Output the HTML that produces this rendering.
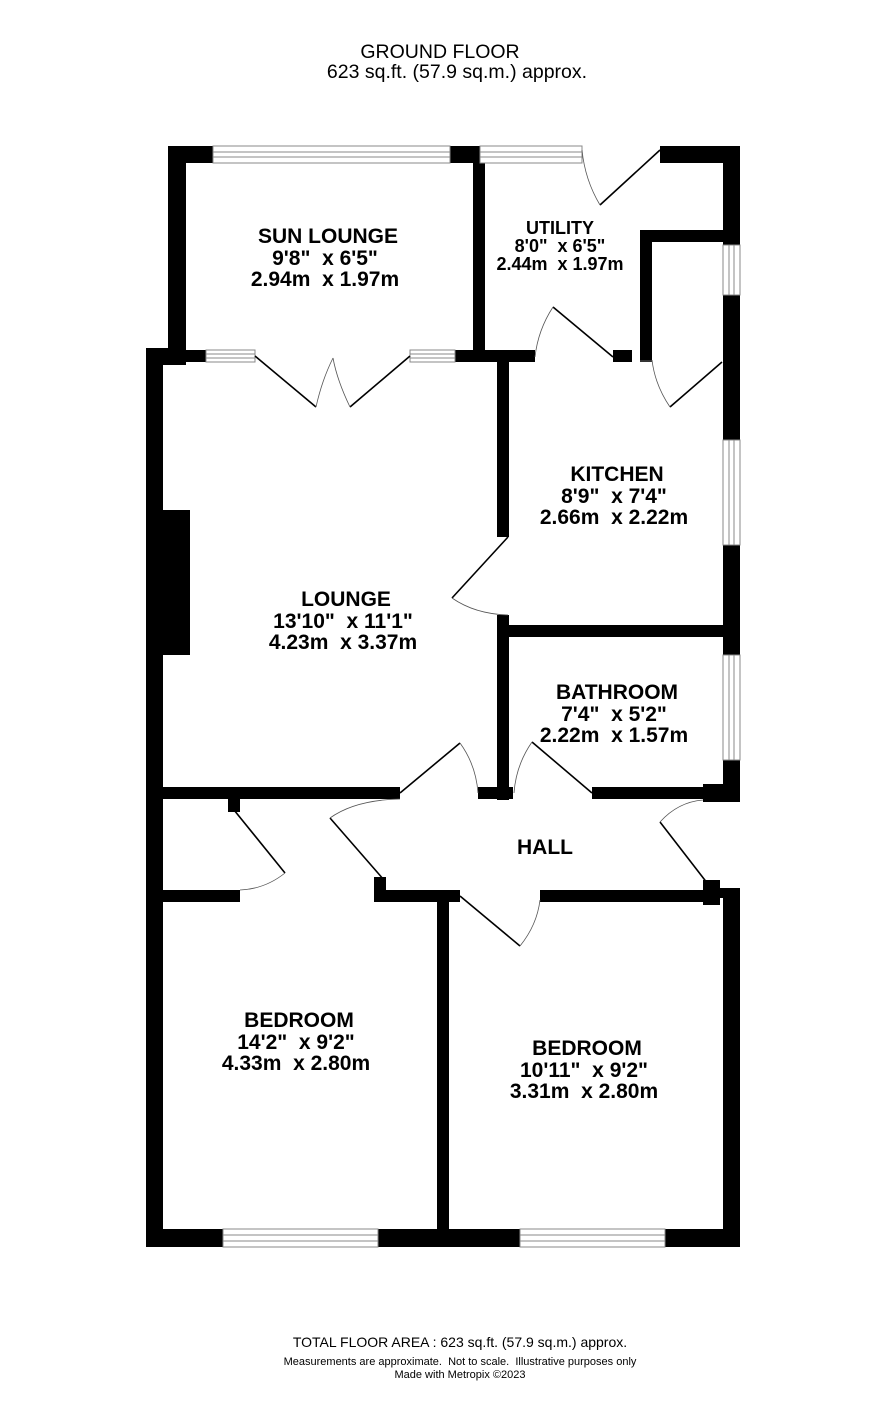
<!DOCTYPE html>
<html><head><meta charset="utf-8"><style>
html,body{margin:0;padding:0;background:#fff}
svg{display:block}
text{font-family:"Liberation Sans",Arial,sans-serif;fill:#000;white-space:pre}
.b{font-weight:bold;font-size:21px}
</style></head><body>
<svg width="886" height="1428" viewBox="0 0 886 1428" xmlns="http://www.w3.org/2000/svg" xml:space="preserve">
<text x="440" y="58" text-anchor="middle" font-size="19.5">GROUND FLOOR</text>
<text x="457" y="78" text-anchor="middle" font-size="19.5">623 sq.ft. (57.9 sq.m.) approx.</text>
<g fill="#000">
<rect x="168" y="146" width="18" height="219"/>
<rect x="168" y="146" width="45" height="17"/>
<rect x="450" y="146" width="30" height="17"/>
<rect x="473" y="146" width="12" height="216"/>
<rect x="660" y="146" width="80" height="17"/>
<rect x="723" y="146" width="17" height="99"/>
<rect x="723" y="295" width="17" height="145"/>
<rect x="723" y="545" width="17" height="110"/>
<rect x="723" y="760" width="17" height="42"/>
<rect x="640" y="230" width="100" height="12"/>
<rect x="640" y="230" width="12" height="130"/>
<rect x="168" y="350" width="38" height="12"/>
<rect x="455" y="350" width="80" height="12"/>
<rect x="613" y="350" width="19" height="12"/>
<rect x="146" y="348" width="17" height="899"/>
<rect x="146" y="348" width="22" height="17"/>
<rect x="163" y="510" width="27" height="145"/>
<rect x="497" y="362" width="12" height="175"/>
<rect x="497" y="615" width="12" height="185"/>
<rect x="497" y="625" width="243" height="12"/>
<rect x="146" y="787" width="254" height="12"/>
<rect x="478" y="787" width="35" height="12"/>
<rect x="592" y="787" width="148" height="12"/>
<rect x="703" y="784" width="37" height="18"/>
<rect x="228" y="799" width="12" height="13"/>
<rect x="146" y="890" width="94" height="12"/>
<rect x="374" y="877" width="12" height="25"/>
<rect x="374" y="890" width="86" height="12"/>
<rect x="540" y="890" width="180" height="12"/>
<rect x="703" y="880" width="17" height="25"/>
<rect x="720" y="888" width="20" height="10"/>
<rect x="723" y="888" width="17" height="359"/>
<rect x="437" y="902" width="12" height="333"/>
<rect x="146" y="1229" width="77" height="18"/>
<rect x="378" y="1229" width="142" height="18"/>
<rect x="665" y="1229" width="75" height="18"/>
</g>
<g fill="#fff" stroke="#888" stroke-width="1">
<rect x="213" y="146" width="237" height="17"/><line x1="213" y1="152" x2="450" y2="152"/><line x1="213" y1="157" x2="450" y2="157"/>
<rect x="480" y="146" width="102" height="17"/><line x1="480" y1="152" x2="582" y2="152"/><line x1="480" y1="157" x2="582" y2="157"/>
<rect x="723" y="245" width="17" height="50"/><line x1="729" y1="245" x2="729" y2="295"/><line x1="734" y1="245" x2="734" y2="295"/>
<rect x="723" y="440" width="17" height="105"/><line x1="729" y1="440" x2="729" y2="545"/><line x1="734" y1="440" x2="734" y2="545"/>
<rect x="723" y="655" width="17" height="105"/><line x1="729" y1="655" x2="729" y2="760"/><line x1="734" y1="655" x2="734" y2="760"/>
<rect x="206" y="350" width="49" height="12"/><line x1="206" y1="354" x2="255" y2="354"/><line x1="206" y1="358" x2="255" y2="358"/>
<rect x="410" y="350" width="45" height="12"/><line x1="410" y1="354" x2="455" y2="354"/><line x1="410" y1="358" x2="455" y2="358"/>
<rect x="223" y="1229" width="155" height="18"/><line x1="223" y1="1235" x2="378" y2="1235"/><line x1="223" y1="1241" x2="378" y2="1241"/>
<rect x="520" y="1229" width="145" height="18"/><line x1="520" y1="1235" x2="665" y2="1235"/><line x1="520" y1="1241" x2="665" y2="1241"/>
</g>
<g fill="none" stroke="#000" stroke-width="1.6">
<line x1="255" y1="356" x2="316" y2="407"/><line x1="410" y1="356" x2="350" y2="407"/>
<line x1="508" y1="537" x2="452" y2="598"/>
<line x1="613" y1="357" x2="553" y2="307"/>
<line x1="722" y1="362" x2="670" y2="407"/>
<line x1="660" y1="150" x2="600" y2="205"/>
<line x1="400" y1="793" x2="460" y2="743"/>
<line x1="592" y1="793" x2="532" y2="742"/>
<line x1="711" y1="888" x2="660" y2="822"/>
<line x1="384" y1="880" x2="330" y2="818"/>
<line x1="234" y1="810" x2="285" y2="873"/>
<line x1="460" y1="896" x2="520" y2="946"/>
<line x1="652" y1="361" x2="640" y2="361"/>
</g>
<g fill="none" stroke="#555" stroke-width="0.8">
<path d="M316 407 Q322 380 333 358"/><path d="M350 407 Q337 380 333 358"/>
<path d="M452 598 Q475 614 508 615"/>
<path d="M553 307 Q538 330 535 357"/>
<path d="M670 407 Q655 385 652 360"/>
<path d="M600 205 Q585 180 582 150"/>
<path d="M460 743 Q476 765 478 793"/>
<path d="M532 742 Q516 765 514 793"/>
<path d="M660 822 Q678 802 703 800"/>
<path d="M330 818 Q355 800 400 799"/>
<path d="M285 873 Q265 889 240 890"/>
<path d="M520 946 Q537 925 540 900"/>
</g>
<g class="b" text-anchor="middle">
<text x="328" y="243">SUN LOUNGE</text><text x="325" y="265">9'8"  x 6'5"</text><text x="325" y="286">2.94m  x 1.97m</text>
<text x="560" y="234" font-size="18">UTILITY</text><text x="560" y="252" font-size="18">8'0"  x 6'5"</text><text x="560" y="270" font-size="18">2.44m  x 1.97m</text>
<text x="617" y="481">KITCHEN</text><text x="614" y="503">8'9"  x 7'4"</text><text x="614" y="524">2.66m  x 2.22m</text>
<text x="346" y="606">LOUNGE</text><text x="343" y="628">13'10"  x 11'1"</text><text x="343" y="649">4.23m  x 3.37m</text>
<text x="617" y="699">BATHROOM</text><text x="614" y="721">7'4"  x 5'2"</text><text x="614" y="742">2.22m  x 1.57m</text>
<text x="545" y="854">HALL</text>
<text x="299" y="1027">BEDROOM</text><text x="296" y="1049">14'2"  x 9'2"</text><text x="296" y="1070">4.33m  x 2.80m</text>
<text x="587" y="1055">BEDROOM</text><text x="584" y="1077">10'11"  x 9'2"</text><text x="584" y="1098">3.31m  x 2.80m</text>
</g>
<text x="460" y="1347" text-anchor="middle" font-size="14">TOTAL FLOOR AREA : 623 sq.ft. (57.9 sq.m.) approx.</text>
<text x="460" y="1365" text-anchor="middle" font-size="11">Measurements are approximate.  Not to scale.  Illustrative purposes only</text>
<text x="460" y="1378" text-anchor="middle" font-size="11">Made with Metropix ©2023</text>
</svg>
</body></html>
